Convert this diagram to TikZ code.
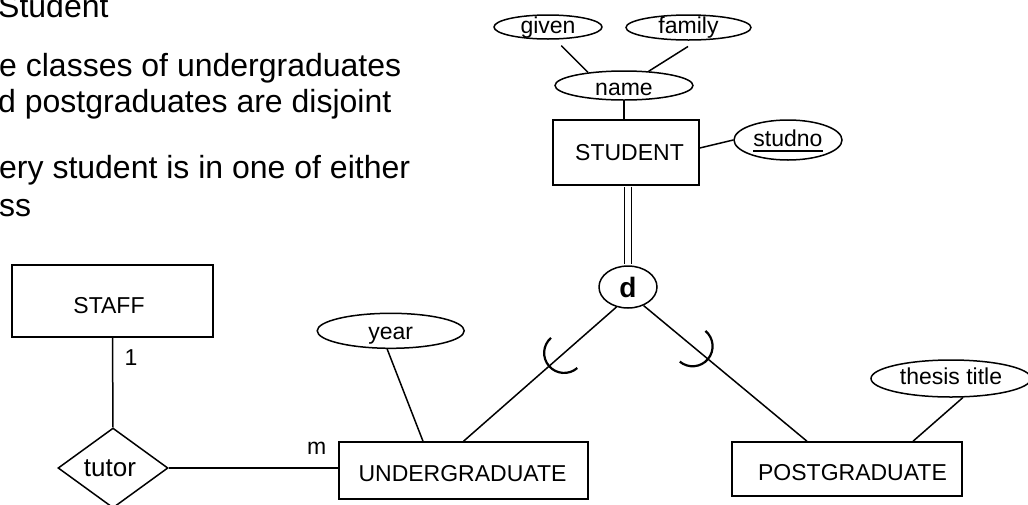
\documentclass[tikz,border=0pt]{standalone}
\usepackage{fontspec}
\setmainfont{Liberation Sans}
\usetikzlibrary{shapes.geometric,calc}

% text drawn offset inside its node without changing the node's box
\newcommand\movedtext[3]{\raisebox{#2}[\height][\depth]{\hspace*{#1}#3\hspace*{-#1}}}
% underlined key attribute
\newsavebox\keybox
\newcommand\keyattr[1]{\sbox\keybox{#1}\rlap{\rule[-5.5pt]{\wd\keybox}{1.5pt}}\usebox\keybox}

\begin{document}
\begin{tikzpicture}[x=1pt,y=1pt,
  every node/.style={font=\fontsize{23}{27}\selectfont},
  link/.style={line width=1.5pt},
  entity/.style={draw, line width=1.5pt, rectangle, inner sep=0pt},
  attr/.style={draw, line width=1.5pt, ellipse, inner sep=0pt, text height=12pt, text depth=0pt},
  relation/.style={draw, line width=1.5pt, diamond, inner sep=0pt},
  subsetarc/.style={line width=2.2pt},
  note/.style={anchor=base west, inner sep=0pt, font=\fontsize{32}{38}\selectfont}]

\useasboundingbox (0,0) rectangle (1028,-504);
\fill[white] (0,0) rectangle (1028,-504);
\clip (0,0) rectangle (1028,-504);

% notes
\node[note] (l1) at (-2,-17) {Student};
\node[note] (l2) at (-1,-76) {e classes of undergraduates};
\node[note] (l3) at (-2,-112.5) {d postgraduates are disjoint};
\node[note] (l4) at (-1,-178.3) {ery student is in one of either};
\node[note] (l5) at (-1,-216.5) {ss};

% entities
\node[entity, minimum width=146pt, minimum height=65pt] (student) at (626,-152.5) {\movedtext{3.5pt}{0pt}{STUDENT}};
\node[entity, minimum width=201pt, minimum height=72pt] (staff) at (112.5,-301) {\movedtext{-3.5pt}{-5pt}{STAFF}};
\node[entity, minimum width=249pt, minimum height=57pt] (ugrad) at (463.5,-470.5) {\movedtext{-1pt}{-3.5pt}{UNDERGRADUATE}};
\node[entity, minimum width=230pt, minimum height=54pt] (pgrad) at (847,-469) {\movedtext{5.5pt}{-3.5pt}{POSTGRADUATE}};

% attributes
\node[attr, minimum width=108pt, minimum height=24pt] (given) at (548,-27) {given};
\node[attr, minimum width=125pt, minimum height=25pt] (family) at (688.5,-27.5) {family};
\node[attr, minimum width=138pt, minimum height=29pt] (name) at (624,-85.5) {\movedtext{0pt}{-3.5pt}{name}};
\node[attr, minimum width=108pt, minimum height=40pt] (studno) at (788,-140) {\keyattr{studno}};
\node[attr, minimum width=147pt, minimum height=35pt] (year) at (390.7,-330.8) {\movedtext{0pt}{-2.5pt}{year}};
\node[attr, minimum width=160pt, minimum height=37pt] (thesis) at (951,-378.5) {thesis title};

% disjoint specialisation circle
\node[draw, ellipse, line width=1.5pt, inner sep=0pt, minimum width=58pt, minimum height=42pt,
      font=\bfseries\fontsize{28}{32}\selectfont] (disj) at (628,-287) {d};

% relationship
\node[relation, minimum width=110pt, minimum height=80pt, font=\fontsize{26}{30}\selectfont] (tutor) at (113,-468) {\movedtext{-3pt}{0pt}{tutor}};

% cardinalities
\node (one) at (131,-358) {1};
\node (many) at (316.7,-448) {m};

% connectors
\draw[link, shorten <=8.5pt] (given.-60) -- (name.160);
\draw[link, shorten <=11pt] (family.-56) -- (name.30);
\draw[link] (name.south) -- (name.south |- student.north);
\draw[link] ([yshift=4.5pt]student.east) -- (studno.west);
\draw[line width=1.6pt, double distance=5.4pt, shorten <=0.8pt, shorten >=0.9pt]
  (disj.north |- student.south) -- (disj.north);
\draw[link] (disj.240) -- (ugrad.north) coordinate[pos=0.342] (cu);
\draw[link] (disj.310) -- ([xshift=-40pt]pgrad.north) coordinate[pos=0.3] (cp);
\draw[subsetarc] ($(cu)+(131.2:20)$) arc[start angle=131.2, end angle=311.2, radius=20];
\draw[subsetarc] ($(cp)+(-129.9:20)$) arc[start angle=-129.9, end angle=50.1, radius=20];
\draw[link] (year.-101) -- ([xshift=-40.5pt]ugrad.north);
\draw[link] (thesis.-58) -- ([xshift=66pt]pgrad.north);
\draw[link] (staff.south) -- (tutor.north);
\draw[link] (tutor.east) -- (tutor.east -| ugrad.west);
\end{tikzpicture}
\end{document}
